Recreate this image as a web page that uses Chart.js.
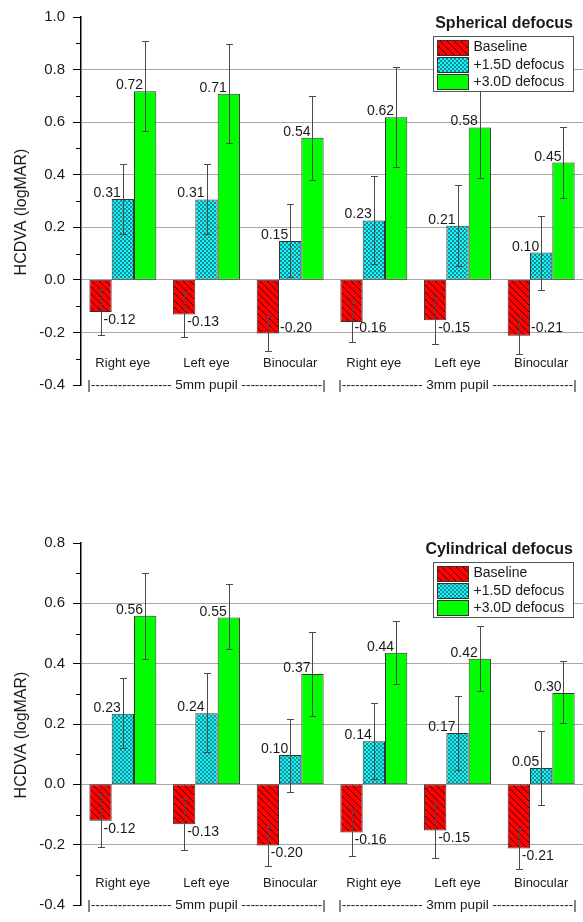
<!DOCTYPE html>
<html>
<head>
<meta charset="utf-8">
<script src="https://cdn.jsdelivr.net/npm/chart.js@4/dist/chart.umd.min.js"></script>
<style>
  html, body { margin: 0; padding: 0; background: #fff; }
  canvas { display: block; }
</style>
</head>
<body>
<canvas id="spherical" width="583" height="461"></canvas>
<canvas id="cylindrical" width="583" height="461"></canvas>
<script>
const categories = ['Right eye', 'Left eye', 'Binocular', 'Right eye', 'Left eye', 'Binocular'];
const pupilGroups = ['5mm pupil', '3mm pupil'];
const seriesNames = ['Baseline', '+1.5D defocus', '+3.0D defocus'];

// spherical defocus: bar value, error bar top, error bar bottom
const sphBaseline = [-0.122, -0.132, -0.204, -0.16, -0.154, -0.213];
const sphBaselineHi = [-0.034, -0.047, -0.137, -0.081, -0.066, -0.143];
const sphBaselineLo = [-0.208, -0.219, -0.269, -0.238, -0.245, -0.282];
const sphD15 = [0.308, 0.306, 0.148, 0.226, 0.206, 0.104];
const sphD15Hi = [0.442, 0.442, 0.289, 0.397, 0.36, 0.243];
const sphD15Lo = [0.174, 0.174, 0.01, 0.06, 0.051, -0.037];
const sphD30 = [0.718, 0.708, 0.541, 0.619, 0.58, 0.446];
const sphD30Hi = [0.907, 0.898, 0.698, 0.808, 0.773, 0.582];
const sphD30Lo = [0.566, 0.519, 0.381, 0.428, 0.387, 0.312];

// cylindrical defocus
const cylBaseline = [-0.121, -0.132, -0.203, -0.16, -0.153, -0.213];
const cylBaselineHi = [-0.032, -0.045, -0.137, -0.083, -0.065, -0.144];
const cylBaselineLo = [-0.209, -0.219, -0.27, -0.238, -0.245, -0.281];
const cylD15 = [0.234, 0.236, 0.097, 0.143, 0.17, 0.054];
const cylD15Hi = [0.354, 0.368, 0.218, 0.268, 0.294, 0.176];
const cylD15Lo = [0.122, 0.108, -0.025, 0.018, 0.046, -0.067];
const cylD30 = [0.559, 0.553, 0.366, 0.436, 0.416, 0.303];
const cylD30Hi = [0.70, 0.663, 0.505, 0.541, 0.524, 0.409];
const cylD30Lo = [0.416, 0.447, 0.225, 0.332, 0.308, 0.203];

const FONT = '"Liberation Sans", Arial, sans-serif';
const TEXT = '#1a1a1a';
Chart.defaults.font.family = FONT;
Chart.defaults.color = TEXT;

const makeTile = (size, draw) => {
    const c = document.createElement('canvas');
    c.width = size; c.height = size;
    draw(c.getContext('2d'));
    return c.getContext('2d').createPattern(c, 'repeat');
};

// red with thin black "\" hatching
const redHatch = makeTile(7, (g) => {
    g.fillStyle = '#ff0000';
    g.fillRect(0, 0, 7, 7);
    g.strokeStyle = '#1a0000';
    g.lineWidth = 0.8;
    g.beginPath();
    g.moveTo(-1, -1);
    g.lineTo(8, 8);
    g.stroke();
});

// cyan fine checker
const cyanCheck = makeTile(4, (g) => {
    g.fillStyle = '#00ffff';
    g.fillRect(0, 0, 4, 4);
    g.fillStyle = '#2d838b';
    g.fillRect(0, 0, 2, 2);
    g.fillRect(2, 2, 2, 2);
});

const decor = {
    id: 'decor',
    afterDatasetsDraw(chart, args, opts) {
        const { ctx, scales: { y } } = chart;
        const px = (v) => Math.round(y.getPixelForValue(v)) + 0.5;

        // error bars
        ctx.save();
        ctx.strokeStyle = '#4a4a4a';
        ctx.lineWidth = 1;
        chart.data.datasets.forEach((ds, di) => {
            chart.getDatasetMeta(di).data.forEach((bar, i) => {
                const x = Math.round(bar.x) + 0.5;
                const yHi = px(ds.errHi[i]);
                const yLo = px(ds.errLo[i]);
                ctx.beginPath();
                ctx.moveTo(x, yHi); ctx.lineTo(x, yLo);
                ctx.moveTo(x - 3.5, yHi); ctx.lineTo(x + 3.5, yHi);
                ctx.moveTo(x - 3.5, yLo); ctx.lineTo(x + 3.5, yLo);
                ctx.stroke();
            });
        });
        ctx.restore();

        // value labels
        ctx.save();
        ctx.font = `14px ${FONT}`;
        ctx.fillStyle = TEXT;
        chart.data.datasets.forEach((ds, di) => {
            chart.getDatasetMeta(di).data.forEach((bar, i) => {
                const v = ds.data[i];
                const txt = v.toFixed(2);
                if (v >= 0) {
                    ctx.textAlign = 'right';
                    ctx.textBaseline = 'alphabetic';
                    ctx.fillText(txt, bar.x - 2, bar.y - 2);
                } else {
                    let cy = bar.y + 8;
                    let x = bar.x + 3;
                    if (opts.labelFloor !== undefined) {
                        cy = Math.min(cy, y.getPixelForValue(opts.labelFloor) - 4);
                        if (cy - 6 < bar.y) x = bar.x + bar.width / 2 + 1;
                    }
                    ctx.textAlign = 'left';
                    ctx.textBaseline = 'middle';
                    ctx.fillText(txt, x, cy);
                }
            });
        });
        ctx.restore();
    },
    afterDraw(chart, args, opts) {
        const { ctx, chartArea, scales: { x, y } } = chart;

        // minor ticks on the left axis
        ctx.save();
        ctx.strokeStyle = '#000';
        ctx.lineWidth = 1;
        for (let v = y.min + 0.1; v < y.max; v += 0.2) {
            const yy = Math.round(y.getPixelForValue(v)) + 0.5;
            ctx.beginPath();
            ctx.moveTo(chartArea.left - 5, yy);
            ctx.lineTo(chartArea.left, yy);
            ctx.stroke();
        }
        ctx.restore();

        ctx.save();
        ctx.fillStyle = TEXT;

        // axis title
        ctx.save();
        ctx.translate(22, (chartArea.top + chartArea.bottom) / 2 + 11);
        ctx.rotate(-Math.PI / 2);
        ctx.font = `16px ${FONT}`;
        ctx.textAlign = 'center';
        ctx.textBaseline = 'middle';
        ctx.fillText('HCDVA (logMAR)', 0, 0);
        ctx.restore();

        // category labels inside the plot
        ctx.font = `13px ${FONT}`;
        ctx.textAlign = 'center';
        ctx.textBaseline = 'middle';
        categories.forEach((c, i) => {
            ctx.fillText(c, x.getPixelForValue(i), chartArea.bottom - 21.5);
        });

        // pupil brackets
        ctx.font = `13.5px ${FONT}`;
        pupilGroups.forEach((g, gi) => {
            const dashes = '-'.repeat(18);
            const cx = x.getPixelForValue(gi * 3 + 1);
            ctx.fillText(`|${dashes} ${g} ${dashes}|`, cx, chartArea.bottom);
        });

        // chart title
        ctx.font = `bold 16px ${FONT}`;
        ctx.textAlign = 'right';
        ctx.textBaseline = 'alphabetic';
        ctx.fillText(opts.title, chartArea.right - 10, chartArea.top + 10.5);

        // legend box
        const bx = Math.round(chartArea.right - 150) + 0.5;
        const by = Math.round(chartArea.top + 19) + 0.5;
        ctx.fillStyle = '#fff';
        ctx.fillRect(bx, by, 140, 55);
        ctx.strokeStyle = '#555';
        ctx.lineWidth = 1;
        ctx.strokeRect(bx, by, 140, 55);
        ctx.font = `14px ${FONT}`;
        ctx.textAlign = 'left';
        ctx.textBaseline = 'middle';
        chart.data.datasets.forEach((ds, i) => {
            const ry = by + 3 + i * 17.3;
            const sy = Math.round(ry) + 0.5;
            ctx.fillStyle = ds.backgroundColor;
            ctx.fillRect(bx + 4, sy, 31, 15);
            ctx.strokeStyle = '#333';
            ctx.strokeRect(bx + 4, sy, 31, 15);
            ctx.fillStyle = TEXT;
            ctx.fillText(ds.label, bx + 40, ry + 8);
        });
        ctx.restore();
    }
};

const makeChart = (id, series, yMin, yMax, padTop, padBottom, decorOpts) => {
    const fills = [redHatch, cyanCheck, '#00ff00'];
    new Chart(document.getElementById(id), {
        type: 'bar',
        data: {
            labels: categories,
            datasets: series.map((s, i) => ({
                label: seriesNames[i],
                data: s[0],
                errHi: s[1],
                errLo: s[2],
                backgroundColor: fills[i],
                borderColor: '#333',
                borderWidth: 1,
                borderSkipped: false,
                categoryPercentage: 0.8,
                barPercentage: 1.0
            }))
        },
        options: {
            responsive: false,
            animation: false,
            devicePixelRatio: 1,
            layout: { padding: { top: padTop, bottom: padBottom, left: 0, right: 0 } },
            plugins: {
                legend: { display: false },
                tooltip: { enabled: false },
                decor: decorOpts
            },
            scales: {
                x: { display: false, offset: true },
                y: {
                    min: yMin,
                    max: yMax,
                    afterFit: (scale) => { scale.width = 81; },
                    ticks: {
                        stepSize: 0.2,
                        padding: 8,
                        color: TEXT,
                        font: { size: 15 },
                        callback: (v) => (Math.abs(v) < 1e-9 ? 0 : Number(v)).toFixed(1)
                    },
                    grid: {
                        color: (c) => {
                            const v = c.tick ? c.tick.value : 0;
                            return (v <= yMin + 1e-6 || v >= yMax - 1e-6) ? 'rgba(0,0,0,0)' : '#a8a8a8';
                        },
                        tickColor: '#000',
                        tickLength: 8,
                        lineWidth: 1
                    },
                    border: { display: true, color: '#000', width: 1.5 }
                }
            }
        },
        plugins: [decor]
    });
};

makeChart('spherical', [
    [sphBaseline, sphBaselineHi, sphBaselineLo],
    [sphD15, sphD15Hi, sphD15Lo],
    [sphD30, sphD30Hi, sphD30Lo]
], -0.4, 1.0, 15, 76, { title: 'Spherical defocus', labelFloor: -0.2 });

makeChart('cylindrical', [
    [cylBaseline, cylBaselineHi, cylBaselineLo],
    [cylD15, cylD15Hi, cylD15Lo],
    [cylD30, cylD30Hi, cylD30Lo]
], -0.4, 0.8, 82, 9, { title: 'Cylindrical defocus' });
</script>
</body>
</html>
